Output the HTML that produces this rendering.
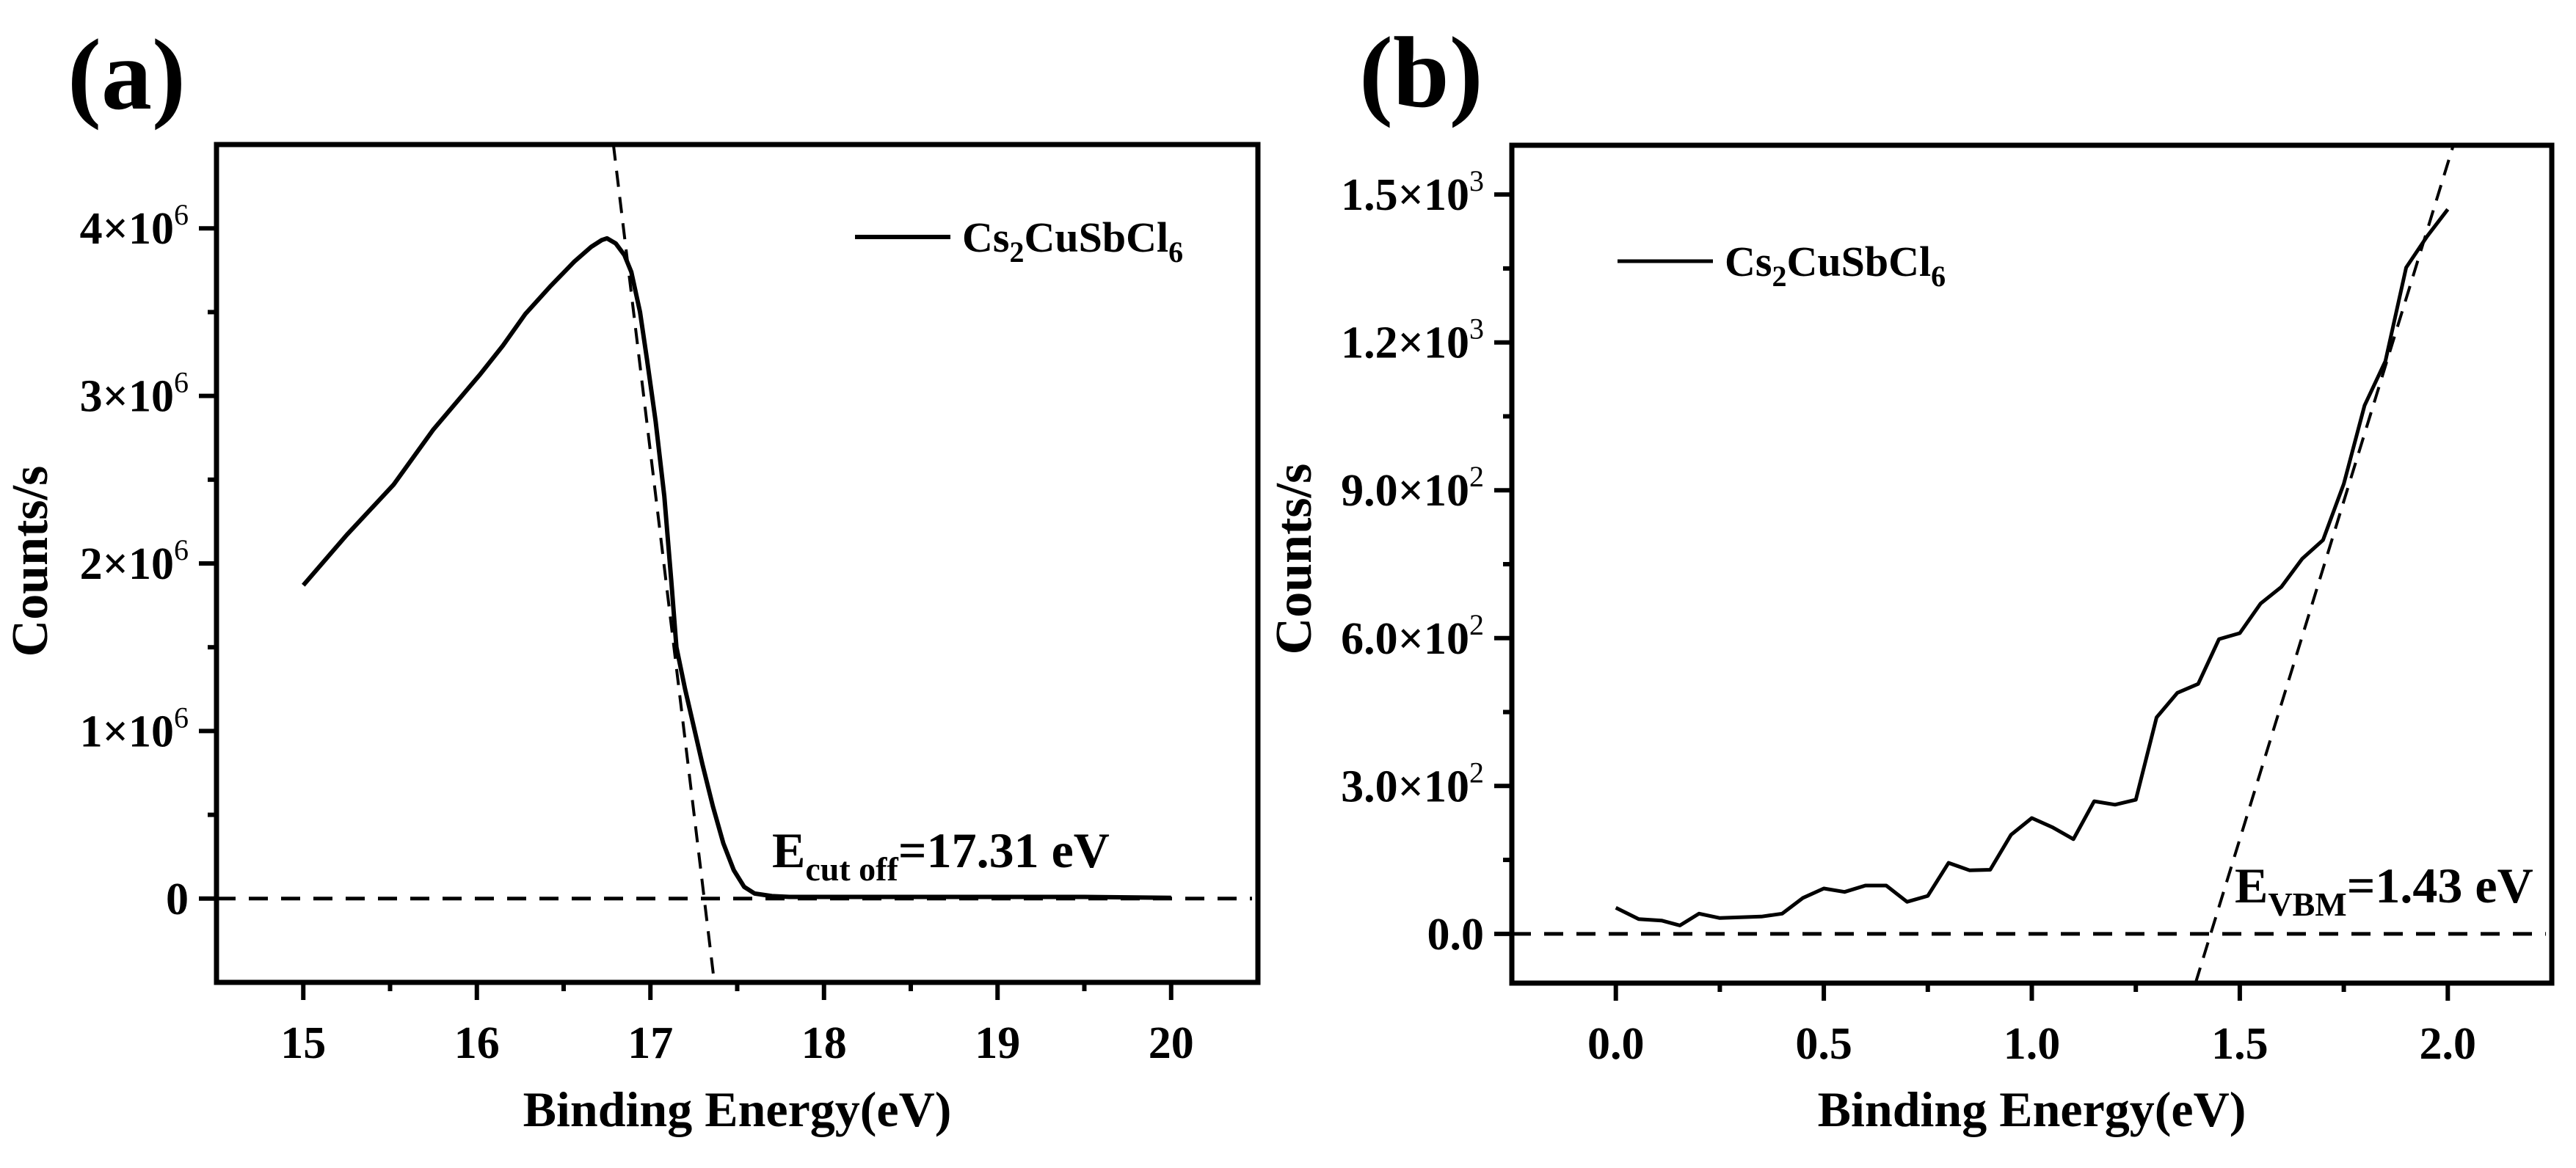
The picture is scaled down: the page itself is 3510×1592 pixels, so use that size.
<!DOCTYPE html>
<html><head><meta charset="utf-8"><style>
html,body{margin:0;padding:0;background:#fff;}
svg{display:block;font-family:"Liberation Serif",serif;font-weight:bold;}
</style></head><body>
<svg id="fig" width="3510" height="1592" viewBox="0 0 3510 1592" xmlns="http://www.w3.org/2000/svg">
<text x="92" y="148" font-size="138">(a)</text>
<text x="1852" y="145" font-size="138">(b)</text>
<g id="pa"></g>
<g id="pb"></g>
</svg>
<script>
// Panel (a) data
const aX = [15, 15.25, 15.52, 15.75, 16.02, 16.15, 16.28, 16.42, 16.56, 16.66, 16.72, 16.75, 16.8, 16.85, 16.89, 16.94, 16.98, 17.03, 17.08, 17.12, 17.15, 17.2, 17.24, 17.3, 17.36, 17.42, 17.48, 17.54, 17.6, 17.7, 17.8, 18.5, 19.0, 19.5, 20.0];
const aY = [1.87e6, 2.17e6, 2.47e6, 2.80e6, 3.13e6, 3.30e6, 3.49e6, 3.65e6, 3.8e6, 3.89e6, 3.93e6, 3.94e6, 3.91e6, 3.84e6, 3.74e6, 3.5e6, 3.22e6, 2.85e6, 2.4e6, 1.9e6, 1.5e6, 1.25e6, 1.07e6, 0.8e6, 0.55e6, 0.33e6, 0.17e6, 0.07e6, 0.03e6, 0.015e6, 0.01e6, 0.01e6, 0.01e6, 0.01e6, 0.005e6];
const aXTicks = [15, 16, 17, 18, 19, 20];
const aYTicks = [0, 1e6, 2e6, 3e6, 4e6];
const aYTickLabels = ["0", "1×10^6", "2×10^6", "3×10^6", "4×10^6"];
const aCutoff = 17.31;
const aSlope = -8.6e6;
// Panel (b) data
const bX = [0, 0.055, 0.11, 0.154, 0.2, 0.25, 0.35, 0.4, 0.45, 0.5, 0.55, 0.6, 0.65, 0.7, 0.75, 0.8, 0.85, 0.9, 0.95, 1.0, 1.05, 1.1, 1.15, 1.2, 1.25, 1.3, 1.35, 1.4, 1.45, 1.5, 1.55, 1.6, 1.65, 1.7, 1.75, 1.8, 1.85, 1.9, 1.95, 2.0];
const bY = [53, 30, 27, 17, 41, 32, 35, 41, 73, 92, 85, 98, 98, 65, 77, 144, 129, 130, 201, 235, 216, 192, 269, 262, 272, 439, 489, 507, 598, 610, 670, 704, 761, 799, 913, 1072, 1162, 1352, 1415, 1470];
const bXTicks = [0, 0.5, 1.0, 1.5, 2.0];
const bXTickLabels = ["0.0", "0.5", "1.0", "1.5", "2.0"];
const bYTicks = [0, 300, 600, 900, 1200, 1500];
const bYTickLabels = ["0.0", "3.0×10^2", "6.0×10^2", "9.0×10^2", "1.2×10^3", "1.5×10^3"];
const bVBM = 1.43;
const bSlope = 2743;

const NS = "http://www.w3.org/2000/svg";
function mk(parent, tag, attrs) {
  const e = document.createElementNS(NS, tag);
  for (const k in attrs) e.setAttribute(k, attrs[k]);
  parent.appendChild(e);
  return e;
}
function tickText(g, x, y, label, anchor) {
  const t = mk(g, "text", {x: x, y: y, "font-size": 62, "text-anchor": anchor});
  
  
  const parts = label.split("^");
  t.appendChild(document.createTextNode(parts[0]));
  if (parts[1]) {
    const s = mk(t, "tspan", {"font-size": 40, dy: -26, "font-weight": "normal"});
    s.textContent = parts[1];
  }
  return t;
}
function drawPanel(g, cfg) {
  const X = v => cfg.L + (v - cfg.x0) / (cfg.x1 - cfg.x0) * (cfg.R - cfg.L);
  const Y = v => cfg.B - (v - cfg.y0) / (cfg.y1 - cfg.y0) * (cfg.B - cfg.T);
  const z = mk(g, "line", {x1: cfg.L, x2: cfg.R - 8, y1: Y(0), y2: Y(0), stroke: "#000", "stroke-width": 5, "stroke-dasharray": "26 18"});
  
  
  const tx0 = cfg.edge + cfg.tY0 / cfg.slope, tx1 = cfg.edge + cfg.tY1 / cfg.slope;
  const tg = mk(g, "line", {x1: X(tx0), y1: Y(cfg.tY0), x2: X(tx1), y2: Y(cfg.tY1), stroke: "#000", "stroke-width": 4, "stroke-dasharray": "22 14"});
  
  
  const pts = cfg.xs.map((v, i) => X(v).toFixed(1) + "," + Y(cfg.ys[i]).toFixed(1)).join(" ");
  const pl = mk(g, "polyline", {points: pts, fill: "none", stroke: "#000", "stroke-width": cfg.lw, "stroke-linejoin": "round"});
  
  
  const fr = mk(g, "rect", {x: cfg.L, y: cfg.T, width: cfg.R - cfg.L, height: cfg.B - cfg.T, fill: "none", stroke: "#000", "stroke-width": 7});
  
  
  cfg.xt.forEach((v, i) => {
    const l = mk(g, "line", {x1: X(v), x2: X(v), y1: cfg.B, y2: cfg.B + 24, stroke: "#000", "stroke-width": 6});
    
    
    tickText(g, X(v), cfg.B + 103, cfg.xl[i], "middle");
    if (i < cfg.xt.length - 1) {
      const m = (v + cfg.xt[i + 1]) / 2;
      const ml = mk(g, "line", {x1: X(m), x2: X(m), y1: cfg.B, y2: cfg.B + 12, stroke: "#000", "stroke-width": 6});
      
      
    }
  });
  cfg.yt.forEach((v, i) => {
    const l = mk(g, "line", {x1: cfg.L - 24, x2: cfg.L, y1: Y(v), y2: Y(v), stroke: "#000", "stroke-width": 6});
    
    
    tickText(g, cfg.L - 38, Y(v) + 21, cfg.yl[i], "end");
    const m = v + (cfg.yt[1] - cfg.yt[0]) / 2;
    if (m < cfg.y1) {
      const ml = mk(g, "line", {x1: cfg.L - 12, x2: cfg.L, y1: Y(m), y2: Y(m), stroke: "#000", "stroke-width": 6});
      
      
    }
  });
  const xt = mk(g, "text", {x: (cfg.L + cfg.R) / 2, y: 1535, "font-size": 68, "text-anchor": "middle"});
  xt.textContent = "Binding Energy(eV)";
  
  
  const yt = mk(g, "text", {x: 0, y: 0, "font-size": 70, "text-anchor": "middle", transform: "translate(" + (cfg.ytx + 24) + "," + cfg.yty + ") rotate(-90)"});
  yt.textContent = "Counts/s";
  
  
  const lg = mk(g, "line", {x1: cfg.legX, x2: cfg.legX + 130, y1: cfg.legY, y2: cfg.legY, stroke: "#000", "stroke-width": cfg.lw});
  
  
  const lt = mk(g, "text", {x: cfg.legX + 146, y: cfg.legY + 20, "font-size": 58});
  
  
  lt.innerHTML = 'Cs<tspan font-size="40" dy="14">2</tspan><tspan dy="-14">CuSbCl</tspan><tspan font-size="40" dy="14">6</tspan>';
  const an = mk(g, "text", {x: cfg.anX, y: cfg.anY, "font-size": 68});
  
  
  an.innerHTML = 'E<tspan font-size="46" dy="18">' + cfg.sub + '</tspan><tspan dy="-18">=' + cfg.edge.toFixed(2) + ' eV</tspan>';
}
drawPanel(document.getElementById("pa"), {
  L: 295, R: 1714, T: 197, B: 1339, x0: 14.5, x1: 20.5, y0: -0.5e6, y1: 4.5e6,
  xs: aX, ys: aY, xt: aXTicks, xl: aXTicks.map(String), yt: aYTicks, yl: aYTickLabels,
  edge: aCutoff, slope: aSlope, tY0: 4.5e6, tY1: -0.45e6, lw: 6,
  ytx: 40, yty: 765, legX: 1165, legY: 323, anX: 1052, anY: 1182, sub: "cut off"
});
drawPanel(document.getElementById("pb"), {
  L: 2060, R: 3477, T: 198, B: 1340, x0: -0.25, x1: 2.25, y0: -100, y1: 1600,
  xs: bX, ys: bY, xt: bXTicks, xl: bXTickLabels, yt: bYTicks, yl: bYTickLabels,
  edge: bVBM, slope: bSlope, tY0: -100, tY1: 1600, lw: 5,
  ytx: 1762, yty: 762, legX: 2204, legY: 356, anX: 3045, anY: 1230, sub: "VBM"
});
</script>
</body></html>
